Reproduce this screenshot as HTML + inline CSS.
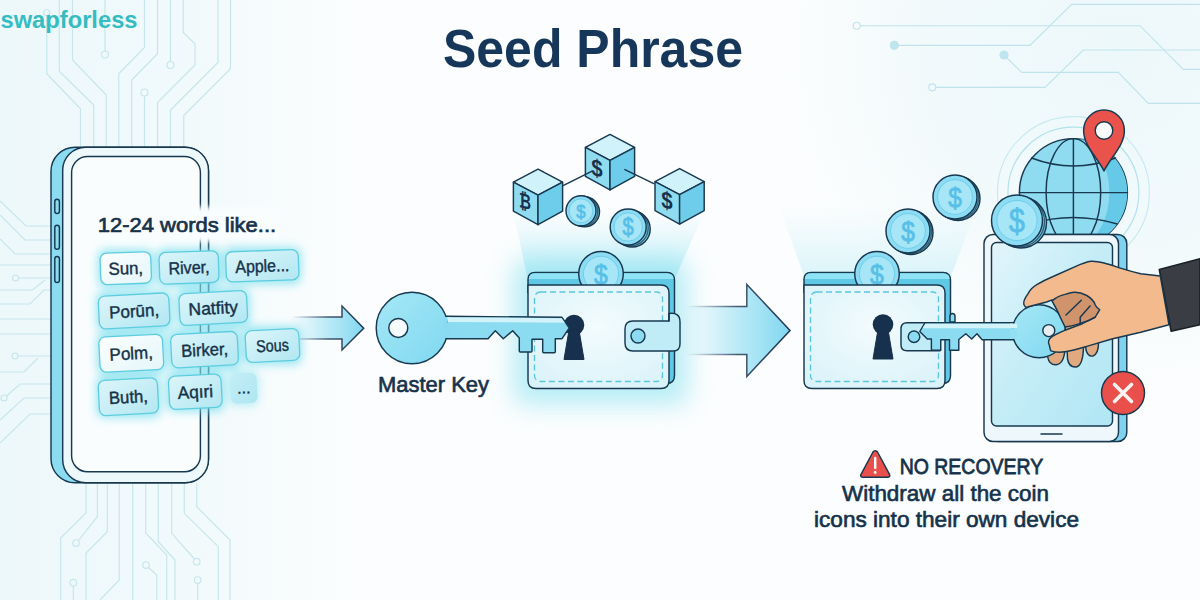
<!DOCTYPE html>
<html lang="en">
<head>
<meta charset="utf-8">
<title>Seed Phrase</title>
<style>
html,body{margin:0;padding:0;background:#f4f9fb;}
body{width:1200px;height:600px;overflow:hidden;font-family:"Liberation Sans",sans-serif;}
svg{display:block;width:1200px;height:600px;}
text{font-family:"Liberation Sans",sans-serif;}
.ol{stroke:#183850;stroke-width:1.45;stroke-linejoin:round;stroke-linecap:round;}
.circ{fill:none;stroke:#c6e6eb;stroke-width:1.15;}
.dk{fill:#18293f;}
.md{fill:#16324a;stroke:#16324a;stroke-width:.65;}
.ch{stroke-width:.42;}
</style>
</head>
<body>
<svg viewBox="0 0 1200 600" width="1200" height="600">
<defs>
<linearGradient id="bgL" gradientUnits="userSpaceOnUse" x1="0" y1="0" x2="360" y2="0">
<stop offset="0" stop-color="#edf8fb"/><stop offset=".55" stop-color="#f0f9fb" stop-opacity=".9"/><stop offset="1" stop-color="#f5fbfc" stop-opacity="0"/>
</linearGradient>
<radialGradient id="bgR" gradientUnits="userSpaceOnUse" cx="1120" cy="50" r="340">
<stop offset="0" stop-color="#edf8fb"/><stop offset=".6" stop-color="#f0f9fb" stop-opacity=".85"/><stop offset="1" stop-color="#f5fbfc" stop-opacity="0"/>
</radialGradient>
<filter id="glow" x="-30%" y="-30%" width="160%" height="160%"><feGaussianBlur stdDeviation="5"/></filter>
<filter id="glow3" x="-20%" y="-40%" width="140%" height="180%"><feGaussianBlur stdDeviation="2.5"/></filter>
<filter id="glow2" x="-30%" y="-30%" width="160%" height="160%"><feGaussianBlur stdDeviation="12"/></filter>
<linearGradient id="arr" x1="0" x2="1" y1="0" y2="0">
<stop offset="0" stop-color="#9fe2f4" stop-opacity="0"/>
<stop offset=".55" stop-color="#9fe2f4" stop-opacity=".75"/>
<stop offset="1" stop-color="#7fd6ef"/>
</linearGradient>
<linearGradient id="arrl" x1="0" x2="1" y1="0" y2="0">
<stop offset="0" stop-color="#1d3450" stop-opacity="0"/>
<stop offset=".5" stop-color="#1d3450" stop-opacity=".8"/>
<stop offset="1" stop-color="#1d3450"/>
</linearGradient>
<linearGradient id="keyg" x1="0" x2="1" y1="0" y2="1">
<stop offset="0" stop-color="#a5e8f6"/><stop offset="1" stop-color="#80d8f0"/>
</linearGradient>
<radialGradient id="wfront" cx="50%" cy="40%" r="75%">
<stop offset="0" stop-color="#f3fbfd"/><stop offset="1" stop-color="#d8f2f9"/>
</radialGradient>
<radialGradient id="coing" cx="40%" cy="35%" r="75%">
<stop offset="0" stop-color="#b0e0f6"/><stop offset="1" stop-color="#80c9ee"/>
</radialGradient>
<g id="wallet">
<path d="M0,20 L0,7 Q0,0 7,0 L139,0 Q146.500,0 146.500,8 L146.500,103 Q146.500,111 138.500,111 L130,111 L130,20 Z" fill="#5fc9e5" class="ol"/>
<path d="M0.800,6.500 Q1,0.800 7,0.800 L139,0.800 Q145.500,1 145.700,6.500 Z" fill="#8fe3f5"/>
<g class="coin"><circle cx="73.0" cy="1.3" r="22.3" fill="#8cdcf3" class="ol"/><circle cx="73.0" cy="1.3" r="17.6" fill="#a6e6f6" stroke="#6fcdec" stroke-width="1"/><text x="73.0" y="11.3" font-size="28.5" text-anchor="middle" fill="#58bfe8" stroke="#58bfe8" stroke-width=".8" textLength="13.8" lengthAdjust="spacingAndGlyphs">$</text></g>
<path d="M0,12.500 L133,12.500 Q141,12.500 141,20.500 L141,108 Q141,116 133,116 L8,116 Q0,116 0,108 Z" fill="url(#wfront)" class="ol"/>
<rect x="6.500" y="19.500" width="128" height="89.500" rx="6" fill="none" stroke="#5ac8dc" stroke-width="1.350" stroke-dasharray="6 3.500"/>
</g>
<g id="keyhole"><circle cx="0" cy="0" r="10.300" fill="#17304d"/><path d="M-5,5 L5,5 L10,34.500 L-10,34.500 Z" fill="#17304d" stroke="#17304d" stroke-width="1" stroke-linejoin="round"/></g>
<g id="cube">
<path d="M0,0 L24.600,13 L0,26 L-24.600,13 Z" fill="#d0f2fa" class="ol"/>
<path d="M-24.600,13 L0,26 L0,55.500 L-24.600,42 Z" fill="#8fdcf1" class="ol"/>
<path d="M24.600,13 L0,26 L0,55.500 L24.600,42 Z" fill="#6dcdea" class="ol"/>
</g>
<linearGradient id="beam" x1="0" x2="0" y1="0" y2="1">
<stop offset="0" stop-color="#c0eef7" stop-opacity="0"/><stop offset="1" stop-color="#a5e6f3" stop-opacity=".7"/>
</linearGradient>
<linearGradient id="scr" x1="0" x2="1" y1="0" y2="1">
<stop offset="0" stop-color="#e2f5fb"/><stop offset=".45" stop-color="#c6edf7"/><stop offset="1" stop-color="#b0e6f4"/>
</linearGradient>
<linearGradient id="chipg" x1="0" x2="1" y1="0" y2="1"><stop offset="0" stop-color="#dcf5fa"/><stop offset="1" stop-color="#b2e7f2"/></linearGradient>
<linearGradient id="chipd" x1="0" x2="1" y1="0" y2="1"><stop offset="0" stop-color="#c4eef6"/><stop offset="1" stop-color="#aee6f2"/></linearGradient>
<linearGradient id="chipw" x1="0" x2="1" y1="0" y2="1"><stop offset="0" stop-color="#fbfefe"/><stop offset="1" stop-color="#e4f6fa"/></linearGradient>
</defs>
<rect width="1200" height="600" fill="#fbfdfe"/>
<rect width="1200" height="600" fill="url(#bgL)"/>
<rect width="1200" height="600" fill="url(#bgR)"/>
<!--CIRCUITS-->
<g id="circuits" class="circ">
<g id="c-top">
<circle cx="46.75" cy="12.5" r="3"/>
<polyline points="46.75,15.5 46.75,73.75 80.5,108.75 80.5,150"/>
<polyline points="59.25,0 59.25,71.25 93.75,105 93.75,150"/>
<polyline points="72.5,0 72.5,60 106.25,95 106.25,150"/>
<polyline points="105,0 105,51"/><circle cx="105" cy="54.5" r="3.5"/>
<polyline points="144.5,0 144.5,47.5 118.75,73.75 118.75,150"/>
<polyline points="157.5,0 157.5,53.75 131.75,80 131.75,150"/>
<circle cx="144.5" cy="92.5" r="3.5"/><polyline points="144.5,96 144.5,150"/>
<polyline points="170.5,0 170.5,61.5"/><circle cx="170.5" cy="65" r="3.5"/>
<polyline points="183.25,0 183.25,32.5 195,43.75 195,65 157.5,102.5 157.5,150"/>
<polyline points="218,0 218,62.5 170.5,110 170.5,150"/>
<polyline points="230.5,0 230.5,68.75 183.75,115.5 183.75,150"/>
</g>
<g id="c-left">
<polyline points="0,201 26,226 51,226"/>
<polyline points="0,215 25,240 51,240"/>
<polyline points="0,239 15,254 51,254"/>
<polyline points="0,265 51,265"/>
<circle cx="15.500" cy="278" r="3"/><polyline points="18.500,278 51,278"/>
<polyline points="0,290 32.500,290 45,280"/>
<polyline points="0,304 30,304 44,290 51,290"/>
<polyline points="0,319 51,319"/>
<polyline points="0,334 51,334"/>
<circle cx="15" cy="356" r="3"/><polyline points="18,356 51,356"/>
<polyline points="0,372 24,372 38,358"/>
<circle cx="4" cy="398" r="3"/><polyline points="6.500,396 20,384 51,384"/>
<polyline points="0,420 24,398 51,398"/>
<polyline points="0,443 30,414 51,414"/>
</g>
<g id="c-bottom">
<polyline points="86,483 86,513 60.700,538 60.700,600"/>
<polyline points="97.300,483 97.300,516.700 78.500,540.500"/><circle cx="76" cy="543" r="3.300"/>
<polyline points="107.300,483 107.300,531.700 86,553 86,600"/>
<polyline points="119.300,483 119.300,580 100,600"/>
<polyline points="132.700,483 132.700,600"/>
<polyline points="145.700,483 145.700,533 166.700,555 166.700,600"/>
<circle cx="146" cy="565" r="3.300"/><polyline points="148.500,567.500 156.700,575 156.700,600"/>
<polyline points="158.300,483 158.300,541.700 175,560 175,600"/>
<polyline points="171.700,483 171.700,533.300 194.500,559"/><circle cx="196.700" cy="561.700" r="3.300"/>
<polyline points="184.300,483 184.300,513.300 218.300,546.700 218.300,600"/>
<polyline points="196.700,483 196.700,506.700 230,540 230,600"/>
<circle cx="197.700" cy="580" r="3.300"/><polyline points="197.700,583.300 197.700,600"/>
<circle cx="73.300" cy="582.700" r="3.300"/><polyline points="73.300,586 73.300,600"/>
</g>
<g id="c-tr" stroke="#bfe3ec">
<circle cx="856.700" cy="25.700" r="3.500"/><polyline points="860.200,25.700 1140,25.700 1183.300,69.300 1200,69.300"/>
<circle cx="894.300" cy="45.300" r="4" fill="#bfe6ef"/><polyline points="894.300,45.300 1030,45.300 1071.700,4.300 1200,4.300"/>
<circle cx="1004" cy="55" r="4" fill="#bfe6ef"/><polyline points="1004,55 1021.700,72.300 1118.300,72.300 1148.300,103.300 1200,103.300"/>
<circle cx="932.300" cy="87.300" r="3.500"/><polyline points="935.800,87.300 1045,87.300 1083.300,50 1200,50"/>
</g>
</g>
<!--PHONE-->
<g id="phone">
<rect x="51" y="147.300" width="157.500" height="335.500" rx="24" fill="#8bdcf1" class="ol" stroke-width="1.700"/>
<rect x="62.700" y="147.300" width="145.800" height="335.500" rx="23" fill="#edf8fb" class="ol"/>
<rect x="71.600" y="156.500" width="128.800" height="315.300" rx="16" fill="#f9fdfe" class="ol" stroke-width="1.400"/>
<g fill="#8bdcf1" class="ol" stroke-width="1.200">
<rect x="54.800" y="199.300" width="4.600" height="14.200" rx="2.300"/>
<rect x="54.800" y="225.300" width="4.600" height="24" rx="2.300"/>
<rect x="54.800" y="256.500" width="4.600" height="26" rx="2.300"/>
</g>
</g>
<g id="chips">
<rect x="96" y="207" width="186" height="35" rx="10" fill="#f9fdfe" filter="url(#glow3)"/>
<g filter="url(#glow)" fill="#7fe0ee" opacity=".8">
<rect x="98.0" y="249.4" width="55.5" height="37.6" rx="7"/>
<rect x="157.0" y="248.5" width="64.0" height="37.9" rx="7"/>
<rect x="223.6" y="247.6" width="77.4" height="36.4" rx="7"/>
<rect x="96.4" y="291.4" width="75.4" height="39.1" rx="7"/>
<rect x="177.0" y="289.0" width="72.5" height="38.0" rx="7"/>
<rect x="97.0" y="332.5" width="68.5" height="41.5" rx="7"/>
<rect x="168.8" y="329.8" width="71.5" height="39.7" rx="7"/>
<rect x="243.3" y="326.5" width="58.4" height="38.0" rx="7"/>
<rect x="96.4" y="376.0" width="64.0" height="41.5" rx="7"/>
<rect x="166.6" y="372.0" width="57.4" height="39.5" rx="7"/>
<rect x="229" y="371" width="29" height="34" rx="6" opacity=".7"/>
</g>
<g transform="rotate(-2 125.8 268.2)"><rect x="100.4" y="252.5" width="50.7" height="31.4" rx="6.5" fill="url(#chipw)" stroke="#5ccddf" stroke-width="1.3"/><text class="md ch" x="125.8" y="274.4" font-size="17.5" text-anchor="middle" textLength="34.5" lengthAdjust="spacingAndGlyphs">Sun,</text></g>
<g transform="rotate(-2 189.0 267.4)"><rect x="159.4" y="251.6" width="59.2" height="31.7" rx="6.5" fill="url(#chipg)" stroke="#5ccddf" stroke-width="1.3"/><text class="md ch" x="189.0" y="273.7" font-size="17.5" text-anchor="middle" textLength="41" lengthAdjust="spacingAndGlyphs">River,</text></g>
<g transform="rotate(-2 262.3 265.8)"><rect x="226.0" y="250.7" width="72.6" height="30.2" rx="6.5" fill="url(#chipg)" stroke="#5ccddf" stroke-width="1.3"/><text class="md ch" x="262.3" y="272.0" font-size="17.5" text-anchor="middle" textLength="54" lengthAdjust="spacingAndGlyphs">Apple...</text></g>
<g transform="rotate(-3 134.1 310.9)"><rect x="98.8" y="294.5" width="70.6" height="32.9" rx="6.5" fill="url(#chipg)" stroke="#5ccddf" stroke-width="1.3"/><text class="md ch" x="134.1" y="317.2" font-size="17.5" text-anchor="middle" textLength="50" lengthAdjust="spacingAndGlyphs">Porūn,</text></g>
<g transform="rotate(-3 213.2 308.0)"><rect x="179.4" y="292.1" width="67.7" height="31.8" rx="6.5" fill="url(#chipg)" stroke="#5ccddf" stroke-width="1.3"/><text class="md ch" x="213.2" y="314.2" font-size="17.5" text-anchor="middle" textLength="49.5" lengthAdjust="spacingAndGlyphs">Natfity</text></g>
<g transform="rotate(-3 131.2 353.2)"><rect x="99.4" y="335.6" width="63.7" height="35.3" rx="6.5" fill="url(#chipw)" stroke="#5ccddf" stroke-width="1.3"/><text class="md ch" x="131.2" y="359.5" font-size="17.5" text-anchor="middle" textLength="43.5" lengthAdjust="spacingAndGlyphs">Polm,</text></g>
<g transform="rotate(-3 204.6 349.6)"><rect x="171.2" y="332.9" width="66.7" height="33.5" rx="6.5" fill="url(#chipg)" stroke="#5ccddf" stroke-width="1.3"/><text class="md ch" x="204.6" y="355.9" font-size="17.5" text-anchor="middle" textLength="47" lengthAdjust="spacingAndGlyphs">Birker,</text></g>
<g transform="rotate(-3 272.5 345.5)"><rect x="245.7" y="329.6" width="53.6" height="31.8" rx="6.5" fill="url(#chipg)" stroke="#5ccddf" stroke-width="1.3"/><text class="md ch" x="272.5" y="351.5" font-size="17" text-anchor="middle" textLength="32.5" lengthAdjust="spacingAndGlyphs">Sous</text></g>
<g transform="rotate(-3 128.4 396.8)"><rect x="98.8" y="379.1" width="59.2" height="35.3" rx="6.5" fill="url(#chipg)" stroke="#5ccddf" stroke-width="1.3"/><text class="md ch" x="128.4" y="403.0" font-size="17.5" text-anchor="middle" textLength="39" lengthAdjust="spacingAndGlyphs">Buth,</text></g>
<g transform="rotate(-3 195.3 391.8)"><rect x="169.0" y="375.1" width="52.6" height="33.3" rx="6.5" fill="url(#chipg)" stroke="#5ccddf" stroke-width="1.3"/><text class="md ch" x="195.3" y="398.0" font-size="17.5" text-anchor="middle" textLength="35.4" lengthAdjust="spacingAndGlyphs">Aqıri</text></g>
<g transform="rotate(-3 243.7 388)"><rect x="230.500" y="373" width="26.500" height="30.500" rx="6" fill="url(#chipd)"/><text class="md ch" x="243.700" y="393.500" font-size="16" text-anchor="middle">...</text></g>
<text class="md" style="stroke-width:.7" x="97.7" y="231.7" font-size="21" textLength="178.5" lengthAdjust="spacingAndGlyphs">12-24 words like...</text>
</g>
<!--ARROWS-->
<g id="arrows">
<path d="M290,317 L342,317 L342,306 L363.700,328.300 L342,350 L342,339 L290,339 Z" fill="url(#arr)"/>
<path d="M292,317 L342,317 L342,306 L363.700,328.300 L342,350 L342,339 L300,339" fill="none" stroke="url(#arrl)" stroke-width="1.5" stroke-linejoin="miter"/>
<path d="M684,306.600 L746.800,306.600 L746.800,284.500 L790,330.400 L746.800,376.600 L746.800,354.500 L684,354.500 Z" fill="url(#arr)"/>
<path d="M686,306.600 L746.800,306.600 L746.800,284.500 L790,330.400 L746.800,376.600 L746.800,354.500 L686,354.500" fill="none" stroke="url(#arrl)" stroke-width="1.5" stroke-linejoin="miter"/>
</g>
<!--KEY1-->
<g id="beam1"><path d="M513.400,212 L704.500,212 L676,276 L527,276 Z" fill="url(#beam)"/></g>
<g id="wallet1"><rect x="513" y="259" width="175" height="146" rx="14" fill="#8fe4f1" opacity=".62" filter="url(#glow2)"/><use href="#wallet" x="528" y="272.500"/></g>
<use href="#keyhole" x="574" y="325"/>
<g id="key1">
<path d="M446.400,316.300 L562,317.300 L569.300,328 L562,338.700 L555.300,338.700 L555.300,351.700 Q555.300,352.700 554.300,352.700 L543.700,352.700 Q542.700,352.700 542.700,351.700 L542.700,339.300 L532,339.300 L532,351 Q532,352 531,352 L520.300,352 Q519.300,352 519.300,351 L519.300,338 L512.700,330.700 L503.300,338.700 L495.300,330.700 L488,338.700 L446.400,338.700 Z" fill="#8bdcf1" class="ol"/>
<path d="M447,317.300 L561.600,318.200 L564.700,322.700 L447,322 Z" fill="#d2f3fa"/>
<circle cx="412" cy="328" r="35.800" fill="url(#keyg)" class="ol" stroke-width="1.700"/>
<path d="M443,317 L447.500,317 L447.500,322.300 L443,322.300 Z" fill="#8bdcf1"/><path d="M447.500,317.200 L451,317.200 L451,322.300 L447.500,322.300 Z" fill="#d2f3fa"/><path d="M443,322.300 L451,322.300 L451,337.900 L443,337.900 Z" fill="#89dbf1"/>
<circle cx="398.300" cy="327.900" r="9.500" fill="#f6fbfd" class="ol" stroke-width="1.800"/>
</g>
<g id="w1front">
<path d="M669,313.500 Q680,312 680,322 L680,344 Q680,351 673,351 L633,351 Q625,351 625,343 L625,329 Q625,321 633,321 L669,321 Z" fill="#c0ecf7" class="ol"/>
<path d="M669,313.500 L669,321" class="ol" fill="none"/>
<circle cx="638" cy="336" r="7" fill="#8bdcf1" class="ol"/>
</g>
<!--WALLET1-->
<!--CUBES-->
<g id="cubes">
<use href="#cube" x="610" y="134.400"/>
<use href="#cube" x="538" y="169.200"/>
<use href="#cube" x="679.600" y="168.600"/>
<path d="M563.600,185.400 L591.600,171.400 M624.900,169.600 L653.800,183.600" class="ol" fill="none" stroke-width="1.300"/>
<text x="597" y="176.500" font-size="24" font-weight="bold" text-anchor="middle" fill="#17304d" transform="skewY(14)" style="transform-origin:597px 168.750px;transform-box:view-box" textLength="11.400" lengthAdjust="spacingAndGlyphs">$</text>
<text x="525" y="208.500" font-size="21" font-weight="bold" text-anchor="middle" fill="#17304d" transform="skewY(14)" style="transform-origin:525px 201px;transform-box:view-box" textLength="12" lengthAdjust="spacingAndGlyphs">₿</text>
<text x="667" y="208.800" font-size="24" font-weight="bold" text-anchor="middle" fill="#17304d" transform="skewY(14)" style="transform-origin:667px 201px;transform-box:view-box" textLength="11.400" lengthAdjust="spacingAndGlyphs">$</text>
<g class="coin"><circle cx="584.5" cy="211.8" r="15.0" fill="#7ed6ef" class="ol" stroke-width="1.2"/><circle cx="582.8" cy="211.3" r="15.0" fill="none" class="ol" stroke-width=".6" stroke-opacity=".75"/><circle cx="581.0" cy="210.8" r="15.0" fill="#8cdcf3" class="ol"/><circle cx="581.0" cy="210.8" r="11.9" fill="#a6e6f6" stroke="#6fcdec" stroke-width="1"/><text x="581.0" y="217.5" font-size="19.2" text-anchor="middle" fill="#58bfe8" stroke="#58bfe8" stroke-width=".8" textLength="9.3" lengthAdjust="spacingAndGlyphs">$</text></g>
<g class="coin"><circle cx="632.2" cy="229.0" r="18.0" fill="#7ed6ef" class="ol" stroke-width="1.2"/><circle cx="630.2" cy="228.0" r="18.0" fill="none" class="ol" stroke-width=".6" stroke-opacity=".75"/><circle cx="628.2" cy="227.0" r="18.0" fill="#8cdcf3" class="ol"/><circle cx="628.2" cy="227.0" r="14.2" fill="#a6e6f6" stroke="#6fcdec" stroke-width="1"/><text x="628.2" y="235.1" font-size="23.0" text-anchor="middle" fill="#58bfe8" stroke="#58bfe8" stroke-width=".8" textLength="11.2" lengthAdjust="spacingAndGlyphs">$</text></g>
</g>
<!--WALLET2-->
<g id="beam2"><path d="M779,205 L978,205 L951,276 L804,276 Z" fill="url(#beam)" opacity=".55"/></g>
<g id="wallet2"><use href="#wallet" x="804" y="272.500"/>
<use href="#keyhole" x="883" y="324.500"/>
</g>
<!--TABLET-->
<g id="globe">
<circle cx="1073.400" cy="192.600" r="65.500" fill="none" stroke="#b3e2eb" stroke-width="1.200"/>
<circle cx="1073.400" cy="192.600" r="76" fill="none" stroke="#c6e9f0" stroke-width="1.100"/>
<circle cx="1073.400" cy="192.600" r="54" fill="#8fdcf1" class="ol"/>
<path d="M1073.400,138.600 A54,54 0 0 1 1073.400,246.600 A36,54 0 0 0 1073.400,138.600 Z" fill="#66c9e8"/>
<g fill="none" class="ol" stroke-width="1.400">
<ellipse cx="1073.400" cy="192.600" rx="27.300" ry="54"/>
<path d="M1073.400,138.600 L1073.400,246.600 M1019.400,192.600 L1127.400,192.600"/>
<path d="M1031.500,158 Q1073.400,174 1115.500,158 M1029.500,224 Q1073.400,211 1117.300,224"/>
</g>
</g>
<g id="pin">
<path d="M1104,171 C1098,158 1083.600,146 1083.600,130.500 A20.400,20.400 0 0 1 1124.400,130.500 C1124.400,146 1110,158 1104,171 Z" fill="#e9534c" class="ol"/>
<circle cx="1104" cy="130.500" r="8.800" fill="#f8fcfd" class="ol"/>
</g>
<g id="tablet">
<rect x="990" y="234.500" width="136.800" height="207" rx="9" fill="#7fd3ee" class="ol"/>
<rect x="984" y="234.500" width="134.500" height="207" rx="9" fill="#eef7fb" class="ol"/>
<rect x="991.500" y="242.500" width="121" height="183.500" rx="5" fill="url(#scr)" class="ol" stroke-width="1.400"/>
<path d="M1041,434 L1062,434" class="ol" fill="none" stroke-width="1.800"/>
</g>
<g id="strap2">
<path d="M950,322 L950,316.500 Q950,313.500 952.500,313.500 Q955,313.500 955,316.500 L955,322 Z" fill="#8bdcf1" class="ol" stroke-width="1.200"/>
<path d="M940,322.750 L907,322.750 Q901,322.750 901,328.750 L901,344.750 Q901,350.750 907,350.750 L940,350.750 Z" fill="#c0ecf7" class="ol"/>
<circle cx="914" cy="336.750" r="5.800" fill="#8bdcf1" class="ol"/>
</g>
<g id="coins2">
<g class="coin"><circle cx="911.0" cy="232.5" r="22.0" fill="#7ed6ef" class="ol" stroke-width="1.2"/><circle cx="909.5" cy="231.8" r="22.0" fill="none" class="ol" stroke-width=".6" stroke-opacity=".75"/><circle cx="908.0" cy="231.0" r="22.0" fill="#8cdcf3" class="ol"/><circle cx="908.0" cy="231.0" r="17.4" fill="#a6e6f6" stroke="#6fcdec" stroke-width="1"/><text x="908.0" y="240.9" font-size="28.2" text-anchor="middle" fill="#58bfe8" stroke="#58bfe8" stroke-width=".8" textLength="13.6" lengthAdjust="spacingAndGlyphs">$</text></g>
<g class="coin"><circle cx="958.0" cy="198.5" r="22.0" fill="#7ed6ef" class="ol" stroke-width="1.2"/><circle cx="956.5" cy="197.8" r="22.0" fill="none" class="ol" stroke-width=".6" stroke-opacity=".75"/><circle cx="955.0" cy="197.0" r="22.0" fill="#8cdcf3" class="ol"/><circle cx="955.0" cy="197.0" r="17.4" fill="#a6e6f6" stroke="#6fcdec" stroke-width="1"/><text x="955.0" y="206.9" font-size="28.2" text-anchor="middle" fill="#58bfe8" stroke="#58bfe8" stroke-width=".8" textLength="13.6" lengthAdjust="spacingAndGlyphs">$</text></g>
<g class="coin"><circle cx="1021.0" cy="222.5" r="25.5" fill="#7ed6ef" class="ol" stroke-width="1.2"/><circle cx="1019.0" cy="221.5" r="25.5" fill="none" class="ol" stroke-width=".6" stroke-opacity=".75"/><circle cx="1017.0" cy="220.5" r="25.5" fill="#8cdcf3" class="ol"/><circle cx="1017.0" cy="220.5" r="20.1" fill="#a6e6f6" stroke="#6fcdec" stroke-width="1"/><text x="1017.0" y="231.9" font-size="32.6" text-anchor="middle" fill="#58bfe8" stroke="#58bfe8" stroke-width=".8" textLength="15.8" lengthAdjust="spacingAndGlyphs">$</text></g>
</g>
<g id="lowfingers" fill="#e0a97f" class="ol">
<path d="M1047.700,349 L1047.700,357 Q1049,365 1056,364.800 Q1064,364 1065,349 Z"/>
<path d="M1067,347 L1067.500,359 Q1069,367.500 1076,367 Q1083,366 1083.500,347 Z"/>
<path d="M1085.600,344 L1086,350 Q1088,357 1093,356 Q1098.500,354 1098.600,342 Z"/>
</g>
<g id="key2">
<path d="M925,322.750 L1016,322.750 L1016,339.700 L982.200,339.700 L977,333.800 L971.700,339 L965.800,333.800 L960,338.500 L958.800,339.500 L958.800,350.200 L949.500,350.200 L949.500,339.700 L940.750,339.700 L940.750,350.200 L931.400,350.200 L931.400,339 L927.300,339 L919.750,331.500 Z" fill="#8bdcf1" class="ol"/>
<path d="M925.500,323.700 L1015,323.700 L1015,328.200 L922.500,328.200 Z" fill="#d2f3fa"/>
<circle cx="1039" cy="331.300" r="26.500" fill="url(#keyg)" class="ol"/>
<path d="M1010,323.600 L1017,323.600 L1017,328.200 L1010,328.200 Z" fill="#d2f3fa"/><path d="M1010,328.200 L1017,328.200 L1017,338.900 L1010,338.900 Z" fill="#93dff3"/>
<circle cx="1048.800" cy="330.600" r="6" fill="#e8eef0" class="ol"/>
</g>
<g id="hand">
<path d="M1159.300,269.500 L1200,258.700 L1200,324.800 L1171.200,331.300 Z" fill="#3a3d44" stroke="#1a2028" stroke-width="1.600" stroke-linejoin="round"/>
<path d="M1160.300,276 L1140.800,273.800 C1133,272 1128,270.500 1121.300,268.400 C1114,266 1110,264.500 1104,263 C1099,261.800 1095,261 1091,261.300 C1086,262 1081,264 1075.800,266.300 L1054.200,276 C1047,279 1042,281.500 1036.800,284.700 C1033,287 1030,290 1028.200,293.300 C1026,297 1023,300 1023.800,304.200 C1024.500,307.500 1026.500,307.500 1028.200,306.800 C1035,305 1041,303.500 1046.600,302 L1052,299.800 C1054,303 1055,306 1057,310 C1059,315 1062,320 1065,324 C1066,326 1066,328 1065,330.200 C1060,332.500 1056,334 1052,336.700 C1048.500,339 1047.500,342.500 1049.400,345.300 C1050,348 1050,349.500 1050.900,350.800 C1055,352.500 1060,352.500 1065,351.800 C1073,350.800 1080,348.500 1086.700,346.400 L1112.700,338.800 L1140.800,332.300 L1169,324.800 Z" fill="#f3ba8d" class="ol"/>
<path d="M1052,300.900 C1056,297.500 1060,295.500 1065,294.400 C1069,293 1071,292.500 1073.700,292.300 C1079,292 1083,293.500 1086.700,295.500 C1091,298 1094,301 1095.300,305 C1097,308.500 1099.500,309.500 1099.700,309.600 C1098,313 1096,315.500 1095.300,317.200 C1091,320 1087,321.500 1082.300,322.600 C1077,324.500 1071,326.500 1065,326.900 C1063,323 1060,317 1057.500,311 C1055,306 1053,303 1052,300.900 Z" fill="#cf946b" class="ol" stroke-width="1.300"/>
<path d="M1081.300,300.300 L1066,315 M1090,305.900 L1080.200,317.200 L1080.200,322.600" fill="none" class="ol" stroke-width="1.300"/>
<path d="M1065,330.200 L1082.300,323.700 L1095.300,317.200" fill="none" class="ol" stroke-width="1.300"/>
</g>
<g id="redx">
<circle cx="1123" cy="393" r="21.500" fill="#e9504b" class="ol"/>
<path d="M1114.500,384.500 L1131.500,401.500 M1131.500,384.500 L1114.500,401.500" stroke="#fbf3f2" stroke-width="3.600" stroke-linecap="round" fill="none"/>
</g>
<g id="warn">
<path d="M875.200,450.700 Q873.800,450.700 873,452 L861,474.300 Q860,477 862.500,477.300 L888,477.300 Q890.500,477 889.500,474.300 L877.500,452 Q876.700,450.700 875.200,450.700 Z" fill="#e9504b" class="ol" stroke-width="1.300"/>
<path d="M875.200,458 L875.200,468" stroke="#fff" stroke-width="2.400" stroke-linecap="round"/>
<circle cx="875.200" cy="472.500" r="1.400" fill="#fff"/>
</g>
<!--TEXT-->
<g id="texts">
<text x="0.5" y="28" font-size="24" font-weight="bold" fill="#35bcc1" textLength="137" lengthAdjust="spacingAndGlyphs">swapforless</text>
<text x="443" y="66.7" font-size="54" font-weight="bold" fill="#16375a" textLength="300" lengthAdjust="spacingAndGlyphs">Seed Phrase</text>
<text class="md" x="378" y="392" font-size="22.5" textLength="111" lengthAdjust="spacingAndGlyphs">Master Key</text>
<text class="md" style="stroke-width:.8" x="899.7" y="474" font-size="22.3" textLength="143.5" lengthAdjust="spacingAndGlyphs">NO RECOVERY</text>
<text class="md" x="842" y="501.300" font-size="22.5" textLength="207" lengthAdjust="spacingAndGlyphs">Withdraw all the coin</text>
<text class="md" x="814" y="527" font-size="22" textLength="265" lengthAdjust="spacingAndGlyphs">icons into their own device</text>
</g>
</svg>
</body>
</html>
